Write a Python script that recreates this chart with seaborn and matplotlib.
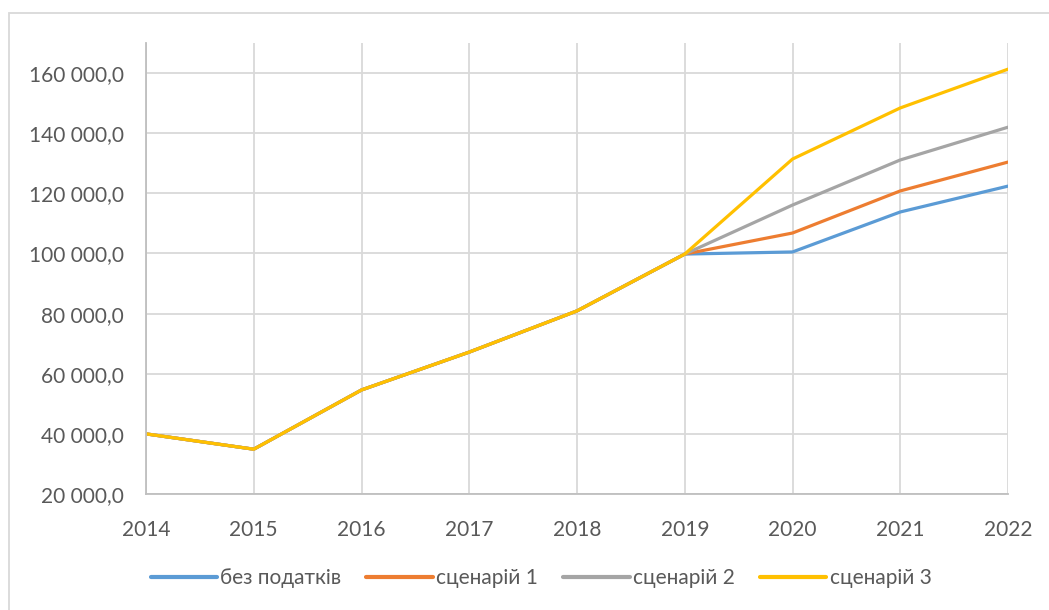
import pandas as pd
import matplotlib
matplotlib.use('Agg')
import matplotlib.pyplot as plt
from matplotlib.ticker import FuncFormatter
from matplotlib.patches import Rectangle
import seaborn as sns

# дані з графіка
years = [2014, 2015, 2016, 2017, 2018, 2019, 2020, 2021, 2022]
bez_podatkiv = [40000, 34900, 54600, 67200, 80900, 99800, 100500, 113800, 122400]
scenariy_1 = [40000, 34900, 54600, 67200, 80900, 99800, 106800, 120800, 130400]
scenariy_2 = [40000, 34900, 54600, 67200, 80900, 99800, 116100, 131100, 142000]
scenariy_3 = [40000, 34900, 54600, 67200, 80900, 99800, 131400, 148400, 161300]
series_names = ['без податків', 'сценарій 1', 'сценарій 2', 'сценарій 3']
colors = ['#5B9BD5', '#ED7D31', '#A5A5A5', '#FFC000']

df = pd.DataFrame({'year': years,
                   series_names[0]: bez_podatkiv,
                   series_names[1]: scenariy_1,
                   series_names[2]: scenariy_2,
                   series_names[3]: scenariy_3})
long_df = df.melt(id_vars='year', var_name='series', value_name='value')

sns.set_style('white')
plt.rcParams['font.family'] = ['Lato', 'DejaVu Sans']

fig = plt.figure(figsize=(10.49, 6.10), dpi=100)
ax = fig.add_axes([146 / 1049, 1 - 494 / 610, (1008 - 146) / 1049, (494 - 43) / 610])

sns.lineplot(data=long_df, x='year', y='value', hue='series', hue_order=series_names,
             palette=colors, linewidth=2.3, ax=ax, legend=False, sort=False)

ax.set_xticks(years)
ax.set_yticks([20000 * i for i in range(1, 9)])
ax.set_xlim(2014, 2022)
ax.set_ylim(20000, 170000)
ax.yaxis.set_major_formatter(FuncFormatter(
    lambda v, p: '{:,.1f}'.format(v).replace(',', ' ').replace('.', ',')))
ax.grid(True, color='#d9d9d9', linewidth=1.3)
ax.set_axisbelow(True)
ax.set_xlabel('')
ax.set_ylabel('')
for side in ['top', 'right']:
    ax.spines[side].set_visible(False)
for side in ['left', 'bottom']:
    ax.spines[side].set_color('#bfbfbf')
    ax.spines[side].set_linewidth(1.3)
ax.tick_params(axis='x', length=0, pad=19, labelsize=15, labelcolor='#595959')
ax.tick_params(axis='y', length=0, pad=16, labelsize=15, labelcolor='#595959')

# легенда
handles = [plt.Line2D([0], [0], color=c, linewidth=3) for c in colors]
fig.legend(handles, series_names, loc='center', bbox_to_anchor=(541 / 1049, 1 - 578 / 610),
           ncol=4, frameon=False, fontsize=15, handlelength=3.2, handletextpad=0.15,
           columnspacing=1.2, labelcolor='#595959')

# рамка діаграми
fig.patches.append(Rectangle((9 / 1049, -0.1), 1.2, 1 - 13 / 610 + 0.1, transform=fig.transFigure,
                             fill=False, edgecolor='#d9d9d9', linewidth=1.3))

fig.savefig('out.png', dpi=100)
